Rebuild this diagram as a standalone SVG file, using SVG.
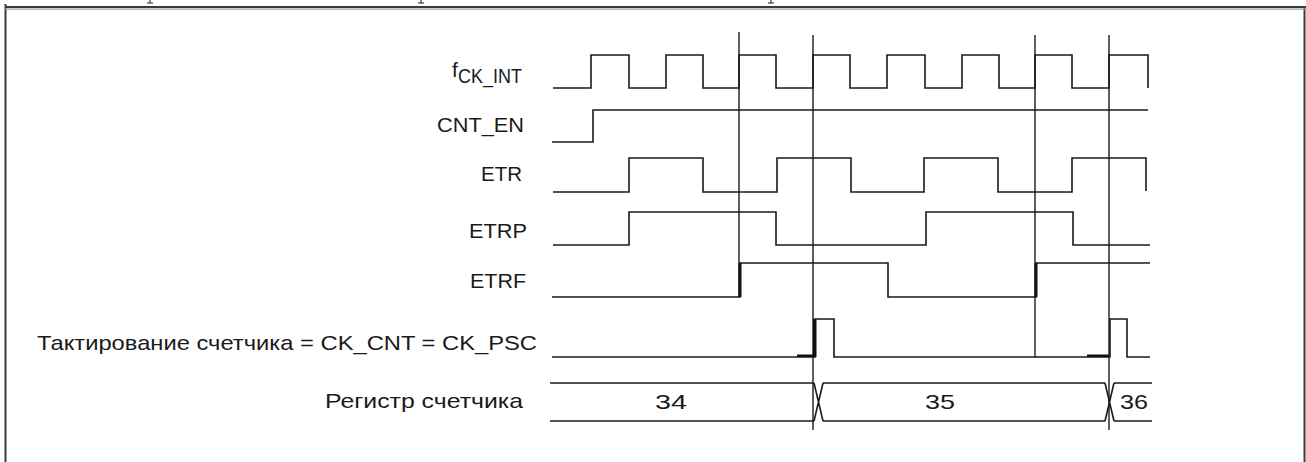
<svg xmlns="http://www.w3.org/2000/svg" width="1306" height="462" viewBox="0 0 1306 462">
<style>
.lbl{font-family:"Liberation Sans",Arial,sans-serif;font-size:21px;fill:#1a1a1a}
.wave{fill:none;stroke:#1a1a1a;stroke-width:1.6;stroke-linejoin:miter}
.div{fill:none;stroke:#1a1a1a;stroke-width:1.4}
.thick{fill:#111}
.frame{fill:none;stroke:#3a3a3a}
</style>
<rect width="1306" height="462" fill="#ffffff"/>
<g id="frame">
<line class="frame" x1="5.5" y1="4" x2="5.5" y2="462" stroke-width="2"/>
<line class="frame" x1="1304.5" y1="6" x2="1304.5" y2="462" stroke-width="2"/>
<line class="frame" x1="5" y1="7" x2="1306" y2="7" stroke-width="2.2"/>
<line x1="5" y1="9.2" x2="1306" y2="9.2" stroke="#a0a0a0" stroke-width="1.2"/>
<path d="M150,0V3M147,3H153M421,0V3M418,3H424M771,0V3M768,3H774" stroke="#222" stroke-width="1" fill="none"/>
</g>
<g id="connectors">
<line class="div" x1="739" y1="32" x2="739" y2="297"/>
<line class="div" x1="813" y1="35" x2="813" y2="430"/>
<line class="div" x1="1035" y1="35" x2="1035" y2="357"/>
<line class="div" x1="1109" y1="35" x2="1109" y2="430"/>
</g>
<g id="fck_int">
<text class="lbl" x="452" y="77" font-size="20">f</text>
<text class="lbl" x="458" y="83" font-size="17" textLength="64" lengthAdjust="spacingAndGlyphs">CK_INT</text>
<path class="wave" d="M553,88H591V55H629V88H666V55H703V88H739V55H776V88H813V55H850V88H887V55H925V88H962V55H999V88H1035V55H1072V88H1109V55H1148V88"/>
</g>
<g id="cnt_en">
<text class="lbl" x="437" y="132" textLength="87" lengthAdjust="spacingAndGlyphs">CNT_EN</text>
<path class="wave" d="M552,142H593V110H1148"/>
</g>
<g id="etr">
<text class="lbl" x="481" y="181" textLength="41" lengthAdjust="spacingAndGlyphs">ETR</text>
<path class="wave" d="M553,192H629V158H703V192H777V158H851V192H924V158H998V192H1072V158H1146V191"/>
</g>
<g id="etrp">
<text class="lbl" x="469" y="238" textLength="58" lengthAdjust="spacingAndGlyphs">ETRP</text>
<path class="wave" d="M553,245H629V212H776V245H926V212H1073V245H1150"/>
</g>
<g id="etrf">
<text class="lbl" x="470" y="288" textLength="56" lengthAdjust="spacingAndGlyphs">ETRF</text>
<path class="wave" d="M552,297H740V263H888V297H1036V263H1150"/>
<rect class="thick" x="738.5" y="263" width="3" height="34"/>
<rect class="thick" x="1034.5" y="263" width="3" height="34"/>
</g>
<g id="ck_cnt">
<text class="lbl" x="37" y="350" textLength="500" lengthAdjust="spacingAndGlyphs">Тактирование счетчика = CK_CNT = CK_PSC</text>
<path class="wave" d="M552,357H815V319H834V357H1110V319H1127V357H1150"/>
<rect class="thick" x="797" y="354.5" width="18" height="2.5"/>
<rect class="thick" x="813" y="319" width="3.5" height="38"/>
<rect class="thick" x="1087" y="354.5" width="22" height="2.5"/>
</g>
<g id="counter_register">
<text class="lbl" x="325" y="408" textLength="198" lengthAdjust="spacingAndGlyphs">Регистр счетчика</text>
<path class="wave" d="M550,383H814M823,383H1105M1114,383H1152M550,421H814M823,421H1105M1114,421H1152"/>
<path class="wave" stroke-width="3.2" d="M814,383L823,421M823,383L814,421M1105,383L1114,421M1114,383L1105,421"/>
<text class="lbl" x="671" y="409" text-anchor="middle" textLength="32" lengthAdjust="spacingAndGlyphs">34</text>
<text class="lbl" x="940" y="409" text-anchor="middle" textLength="30" lengthAdjust="spacingAndGlyphs">35</text>
<text class="lbl" x="1134" y="409" text-anchor="middle" textLength="28" lengthAdjust="spacingAndGlyphs">36</text>
</g>
</svg>
